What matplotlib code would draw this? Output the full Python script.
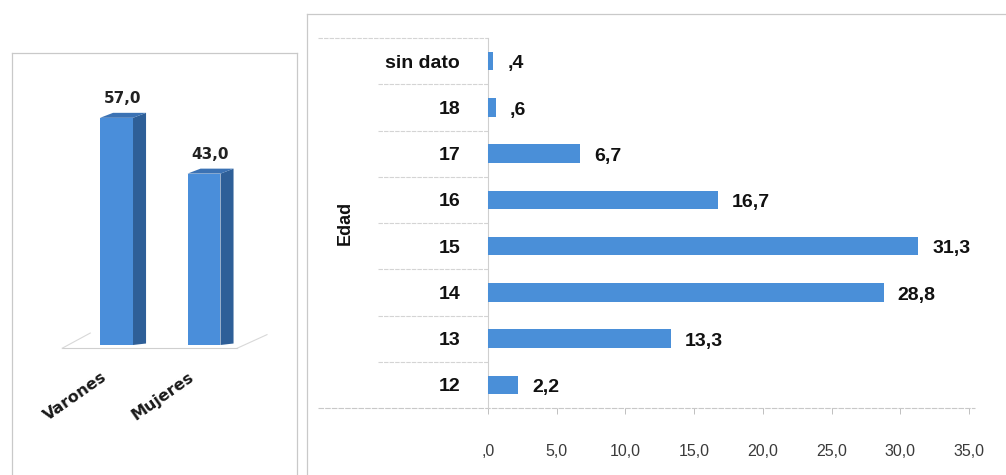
import matplotlib
matplotlib.use("Agg")
import matplotlib.pyplot as plt
from matplotlib.lines import Line2D
from matplotlib.patches import Polygon

# ---- data ----
sexo_labels = ["Varones", "Mujeres"]
sexo_values = [57.0, 43.0]

edad_labels = ["12", "13", "14", "15", "16", "17", "18", "sin dato"]
edad_values = [2.2, 13.3, 28.8, 31.3, 16.7, 6.7, 0.6, 0.4]

x_ticks = [0, 5, 10, 15, 20, 25, 30, 35]
x_tick_labels = [",0", "5,0", "10,0", "15,0", "20,0", "25,0", "30,0", "35,0"]


def fmt(v):
    s = f"{v:.1f}".replace(".", ",")
    return s[1:] if s.startswith("0") else s


W, H = 1006, 475
fig = plt.figure(figsize=(W / 100, H / 100), dpi=100)
fig.patch.set_facecolor("white")

LABEL_FONT = ["Liberation Sans", "DejaVu Sans"]
BLUE = "#4A8FD8"
BORDER = "#c9c9c9"


def px_line(x0, y0, x1, y1, color=BORDER, lw=0.9, ls="-"):
    fig.add_artist(Line2D([x0 / W, x1 / W], [1 - y0 / H, 1 - y1 / H],
                          transform=fig.transFigure, color=color, lw=lw, ls=ls))


# panel frames
px_line(12, 53, 297, 53)
px_line(12, 53, 12, 475)
px_line(297, 53, 297, 475)
px_line(307, 14, 1006, 14)
px_line(307, 14, 307, 475)

# ---- left: 3-D style column chart ----
axl = fig.add_axes([60 / W, 130 / H, 200 / W, 279 / H])
axl.set_xlim(-0.646, 1.640)
axl.set_ylim(0, 70)
axl.axis("off")

bw = 0.377
dx, dy = 0.149, 1.25
xs = list(range(len(sexo_values)))

# floor outline
axl.plot([-0.62, 1.38], [-0.8, -0.8], color="#cfcfcf", lw=0.8, clip_on=False)
axl.plot([-0.62, -0.30], [-0.8, 3.0], color="#d8d8d8", lw=0.8, clip_on=False)
axl.plot([1.38, 1.72], [-0.8, 2.6], color="#d8d8d8", lw=0.8, clip_on=False)

axl.bar(xs, sexo_values, width=bw, color="#4A8EDA", edgecolor="none", zorder=3)
for x, v in zip(xs, sexo_values):
    x0, x1 = x - bw / 2, x + bw / 2
    side = Polygon([(x1, 0), (x1 + dx, dy * 0.3), (x1 + dx, v + dy), (x1, v)],
                   closed=True, facecolor="#2E5F98", edgecolor="none", zorder=3)
    top = Polygon([(x0, v), (x0 + dx, v + dy), (x1 + dx, v + dy), (x1, v)],
                  closed=True, facecolor="#3B72B4", edgecolor="none", zorder=3)
    axl.add_patch(side)
    axl.add_patch(top)
    axl.annotate(fmt(v), (x + dx / 2, v + dy), xytext=(0, 5), textcoords="offset points",
                 ha="center", va="bottom", fontsize=11, fontweight="bold",
                 family="DejaVu Sans", color="#222222")

for x, lab in zip(xs, sexo_labels):
    axl.text(x - 0.47, -0.183, lab, transform=axl.get_xaxis_transform(),
             rotation=35, rotation_mode="anchor", ha="center", va="center",
             fontsize=11.5, fontweight="bold", family="DejaVu Sans", color="#1a1a1a")

# ---- right: horizontal bar chart ----
axr = fig.add_axes([488 / W, 67 / H, 481 / W, 370 / H])
ypos = list(range(len(edad_values)))
axr.barh(ypos, edad_values, height=0.4, color=BLUE, edgecolor="none", zorder=3)
axr.set_xlim(0, 35)
axr.set_ylim(-0.5, len(edad_values) - 0.5)

for s in ["top", "right", "bottom"]:
    axr.spines[s].set_visible(False)
axr.spines["left"].set_color("#cfcfcf")
axr.spines["left"].set_linewidth(0.8)

axr.set_yticks(ypos)
axr.set_yticklabels(edad_labels, fontsize=14, fontweight="bold", family=LABEL_FONT,
                    color="#111111")
axr.tick_params(axis="y", length=0, pad=20)

axr.set_xticks(x_ticks)
axr.set_xticklabels(x_tick_labels, fontsize=11.5, family=LABEL_FONT, color="#3a3a3a")
axr.tick_params(axis="x", length=4, width=0.7, color="#c0c0c0", pad=22)

# category separator lines to the left of the axis
sep_kw = dict(transform=axr.get_yaxis_transform(), color="#d4d4d4", lw=0.8,
              ls=(0, (4, 1)), clip_on=False)
for k in range(len(edad_values) - 1):
    axr.plot([-0.229, 0], [k + 0.5, k + 0.5], **sep_kw)
axr.plot([-0.353, 0], [len(edad_values) - 0.5] * 2, **sep_kw)
axr.plot([-0.353, 1.0125], [-0.5, -0.5], transform=axr.get_yaxis_transform(),
         color="#c8c8c8", lw=0.8, ls=(0, (5, 1)), clip_on=False)

for y, v in zip(ypos, edad_values):
    axr.annotate(fmt(v), (v, y), xytext=(10, -2), textcoords="offset points",
                 ha="left", va="center", fontsize=14, fontweight="bold",
                 family=LABEL_FONT, color="#111111")

axr.text(-0.297, 0.5, "Edad", transform=axr.transAxes, rotation=90, ha="center",
         va="center", fontsize=13, fontweight="bold", family=LABEL_FONT, color="#111111")

fig.savefig("out.png", dpi=100, facecolor="white")
